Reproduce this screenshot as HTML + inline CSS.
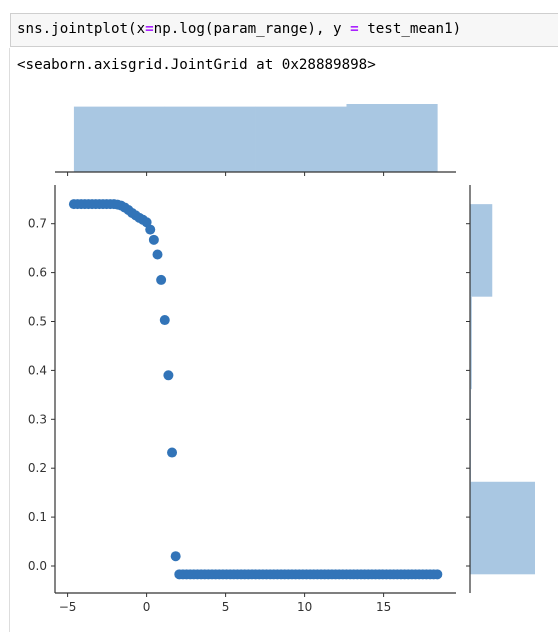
<!DOCTYPE html>
<html><head><meta charset="utf-8"><style>
body{margin:0;width:558px;height:632px;background:#fff;overflow:hidden;font-family:"Liberation Sans",sans-serif;position:relative}
.code{position:absolute;left:10px;top:13px;width:560px;height:34px;border:1px solid #cfcfcf;background:#f7f7f7;box-sizing:border-box}
.code span.t{position:absolute;left:6px;top:7px;font-family:"DejaVu Sans Mono","Liberation Mono",monospace;font-size:14.2px;color:#000;white-space:pre}
.out{position:absolute;left:17px;top:57px;font-family:"DejaVu Sans Mono","Liberation Mono",monospace;font-size:14.2px;white-space:pre}
.vline{position:absolute;left:9px;top:48px;width:1px;height:584px;background:#ddd}
</style></head><body>
<div class="vline"></div>
<div class="code"><span class="t">sns.jointplot(x<span style="color:#aa22ff;font-weight:bold">=</span>np.log(param_range), y <span style="color:#aa22ff;font-weight:bold">=</span> test_mean1)</span></div>
<div class="out">&lt;seaborn.axisgrid.JointGrid at 0x28889898&gt;</div>
<svg id="chart" width="558" height="632" style="position:absolute;left:0;top:0"></svg>
<script>
const xVals=[-4.6,-4.37,-4.14,-3.91,-3.68,-3.45,-3.22,-2.99,-2.76,-2.53,-2.3,-2.07,-1.84,-1.61,-1.38,-1.15,-0.92,-0.69,-0.46,-0.23,0,0.23,0.46,0.69,0.92,1.15,1.38,1.61,1.84,2.07,2.3,2.53,2.76,2.99,3.22,3.45,3.68,3.91,4.14,4.37,4.6,4.83,5.06,5.29,5.52,5.75,5.98,6.21,6.44,6.67,6.9,7.13,7.36,7.59,7.82,8.05,8.28,8.51,8.74,8.97,9.2,9.43,9.66,9.89,10.12,10.35,10.58,10.81,11.04,11.27,11.5,11.73,11.96,12.19,12.42,12.65,12.88,13.11,13.34,13.57,13.8,14.03,14.26,14.49,14.72,14.95,15.18,15.41,15.64,15.87,16.1,16.33,16.56,16.79,17.02,17.25,17.48,17.71,17.94,18.17,18.4];
const yVals=[0.74,0.74,0.74,0.74,0.74,0.74,0.74,0.74,0.74,0.74,0.74,0.74,0.739,0.737,0.733,0.728,0.722,0.717,0.712,0.708,0.703,0.688,0.667,0.637,0.585,0.503,0.39,0.232,0.02,
-0.017,-0.017,-0.017,-0.017,-0.017,-0.017,-0.017,-0.017,-0.017,-0.017,-0.017,-0.017,-0.017,-0.017,-0.017,-0.017,-0.017,-0.017,-0.017,-0.017,-0.017,-0.017,-0.017,-0.017,-0.017,-0.017,-0.017,-0.017,-0.017,-0.017,-0.017,-0.017,-0.017,-0.017,-0.017,-0.017,-0.017,-0.017,-0.017,-0.017,-0.017,-0.017,-0.017,-0.017,-0.017,-0.017,-0.017,-0.017,-0.017,-0.017,-0.017,-0.017,-0.017,-0.017,-0.017,-0.017,-0.017,-0.017,-0.017,-0.017,-0.017,-0.017,-0.017,-0.017,-0.017,-0.017,-0.017,-0.017,-0.017,-0.017,-0.017,-0.017];
const xTicks=[-5,0,5,10,15];
const yTicks=[0.0,0.1,0.2,0.3,0.4,0.5,0.6,0.7];
const xTickLabels=["\u22125","0","5","10","15"];
const yTickLabels=["0.0","0.1","0.2","0.3","0.4","0.5","0.6","0.7"];
const nBins=4;

const svg=document.getElementById('chart');
const NS='http://www.w3.org/2000/svg';
const L=55,R=456,T=185,B=593;
const sx=v=>146.6+(v)*15.8;
const sy=v=>566-v*489;
function mk(tag,attrs,parent){const e=document.createElementNS(NS,tag);for(const k in attrs)e.setAttribute(k,attrs[k]);(parent||svg).appendChild(e);return e;}
// histograms
function hist(vals){const mn=Math.min(...vals),mx=Math.max(...vals);const w=(mx-mn)/nBins;const c=new Array(nBins).fill(0);vals.forEach(v=>{let i=Math.floor((v-mn)/w);if(i>=nBins)i=nBins-1;c[i]++;});return {mn,w,c};}
const hx=hist(xVals),hy=hist(yVals);
const topBase=172,topH=68;const mxX=Math.max(...hx.c);
hx.c.forEach((c,i)=>{const x0=sx(hx.mn+i*hx.w),x1=sx(hx.mn+(i+1)*hx.w);const h=c/mxX*topH;
const r=mk('rect',{x:x0,y:topBase-h,width:x1-x0+0.3,height:h,fill:'#a9c7e2'});

});
const rBase=470,rW=65;const mxY=Math.max(...hy.c);
hy.c.forEach((c,i)=>{const y1=sy(hy.mn+i*hy.w),y0=sy(hy.mn+(i+1)*hy.w);const w=c/mxY*rW;
const r=mk('rect',{x:rBase,y:y0,width:w,height:y1-y0,fill:'#a9c7e2'});

});
// spines
const ax='#333';
mk('line',{x1:L,y1:T,x2:L,y2:B,stroke:ax,'stroke-width':1.2});
mk('line',{x1:L,y1:B,x2:R,y2:B,stroke:ax,'stroke-width':1.2});
mk('line',{x1:L,y1:topBase,x2:R,y2:topBase,stroke:ax,'stroke-width':1.2});
mk('line',{x1:rBase,y1:T,x2:rBase,y2:B,stroke:ax,'stroke-width':1.2});
xTicks.forEach((t,i)=>{const x=sx(t);
mk('line',{x1:x,y1:B,x2:x,y2:B+4,stroke:ax});
mk('line',{x1:x,y1:topBase,x2:x,y2:topBase+4,stroke:ax});
const tx=mk('text',{x:x,y:B+18,'font-size':12,'text-anchor':'middle',fill:'#333','font-family':'DejaVu Sans, sans-serif'});tx.textContent=xTickLabels[i];

});
yTicks.forEach((t,i)=>{const y=sy(t);
mk('line',{x1:L-4,y1:y,x2:L,y2:y,stroke:ax});
mk('line',{x1:rBase-4,y1:y,x2:rBase,y2:y,stroke:ax});
const tx=mk('text',{x:L-8,y:y+4,'font-size':12,'text-anchor':'end',fill:'#333','font-family':'DejaVu Sans, sans-serif'});tx.textContent=yTickLabels[i];

});
// points
xVals.forEach((v,i)=>{const c=mk('circle',{cx:sx(v),cy:sy(yVals[i]),r:5,fill:'#3274b8'});

});
</script>
</body></html>
